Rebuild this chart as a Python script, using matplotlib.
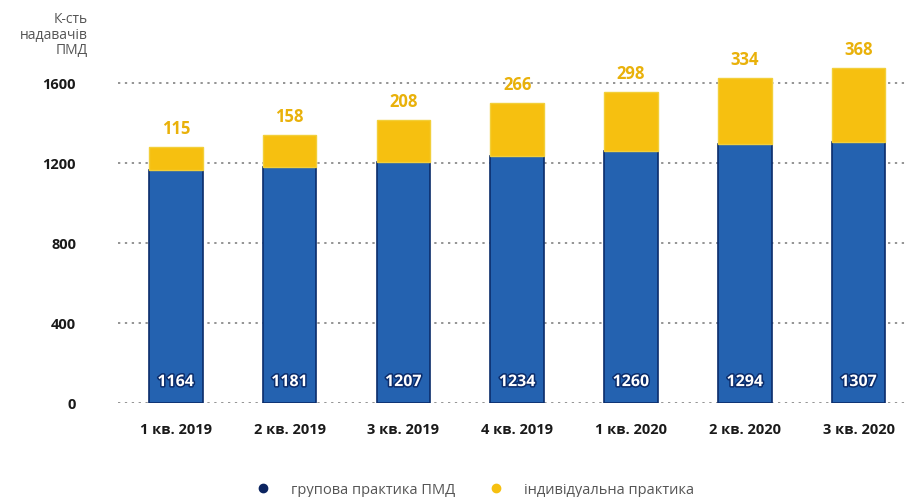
import matplotlib
matplotlib.use("Agg")
import matplotlib.pyplot as plt
import matplotlib.patheffects as pe
import numpy as np
from matplotlib.lines import Line2D

categories = ["1 кв. 2019", "2 кв. 2019", "3 кв. 2019", "4 кв. 2019", "1 кв. 2020", "2 кв. 2020", "3 кв. 2020"]
group_practice = [1164, 1181, 1207, 1234, 1260, 1294, 1307]
individual_practice = [115, 158, 208, 266, 298, 334, 368]
yticks = [0, 400, 800, 1200, 1600]

plt.rcParams['font.family'] = ['Open Sans', 'DejaVu Sans']

fig = plt.figure(figsize=(9.2, 4.97), dpi=100)
ax = fig.add_axes([0.128, 0.189, 0.856, 0.704])

blue = "#2462b0"
blue_edge = "#0b2c6b"
yellow = "#f6c010"
yellow_edge = "#f2cf3a"
label_yellow = "#e9b10a"

x = np.arange(len(categories))
w = 0.47
ax.bar(x, group_practice, width=w, color=blue, edgecolor=blue_edge, linewidth=1.2, zorder=3)
ax.bar(x, individual_practice, width=w, bottom=group_practice, color=yellow,
       edgecolor=yellow_edge, linewidth=1.0, zorder=3)

for xi, g, ind in zip(x, group_practice, individual_practice):
    ax.text(xi, 105, str(g), ha="center", va="center", color="white", fontsize=11.5,
            fontweight="bold", zorder=5,
            path_effects=[pe.withStroke(linewidth=2.2, foreground="#0b2c6b")])
    ax.text(xi, g + ind + 45, str(ind), ha="center", va="bottom", color=label_yellow,
            fontsize=12, fontweight="bold", zorder=5)

for yv in yticks:
    ax.axhline(yv, color="#777777", linestyle=(0, (1.5, 3)), linewidth=1.1, zorder=1)

ax.set_xlim(-0.51, 6.41)
ax.set_ylim(0, 1750)
ax.set_yticks(yticks)
ax.set_yticklabels([str(v) for v in yticks], fontsize=10.5, fontweight="bold", color="#1a1a1a")
ax.tick_params(axis="y", length=0, pad=30)
ax.set_xticks(x)
ax.set_xticklabels(categories, fontsize=10.5, fontweight="bold", color="#1a1a1a")
ax.tick_params(axis="x", length=0, pad=14)
for s in ax.spines.values():
    s.set_visible(False)

fig.text(88 / 920, 1 - 12 / 497, "К-сть\nнадавачів\nПМД", ha="right", va="top",
         fontsize=10, color="#555555", linespacing=1.05)

handles = [Line2D([0], [0], marker="o", linestyle="", markersize=6, markerfacecolor="#0b2460",
                  markeredgecolor="#0b2460"),
           Line2D([0], [0], marker="o", linestyle="", markersize=6, markerfacecolor=yellow,
                  markeredgecolor=yellow)]
fig.legend(handles, ["групова практика ПМД", "індивідуальна практика"], loc="center",
           bbox_to_anchor=(0.512, 1 - 490 / 497), ncol=2, frameon=False, fontsize=10.5,
           labelcolor="#555555", handletextpad=0.9, columnspacing=1.8)

fig.savefig("out.png", dpi=100)
